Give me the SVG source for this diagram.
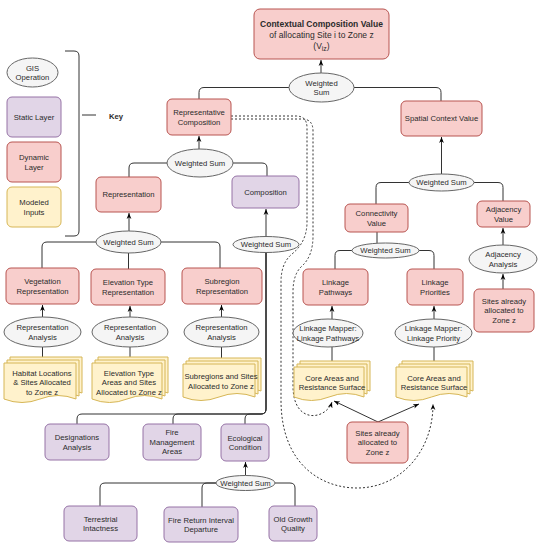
<svg xmlns="http://www.w3.org/2000/svg" width="541" height="550" viewBox="0 0 541 550">
<style>
text{font-family:"Liberation Sans",Arial,sans-serif;font-size:7.7px;fill:#2b2b2b;text-anchor:middle;dominant-baseline:central}
.pk{fill:#f8cecc;stroke:#b85450;stroke-width:1}
.pu{fill:#e1d5e7;stroke:#9673a6;stroke-width:1}
.ye{fill:#fff2cc;stroke:#d6b656;stroke-width:1}
.gr{fill:#f5f5f5;stroke:#666;stroke-width:1}
.ln{fill:none;stroke:#333;stroke-width:1}
.ar{fill:none;stroke:#333;stroke-width:1;marker-end:url(#a)}
.da{fill:none;stroke:#333;stroke-width:1;stroke-dasharray:2,2;marker-end:url(#a)}
.b{font-weight:bold}
</style>
<defs>
<marker id="a" viewBox="0 0 10 10" refX="10" refY="5" markerWidth="6" markerHeight="6" orient="auto"><path d="M0,1 L10,5 L0,9 L3,5 z" fill="#000"/></marker>
</defs>
<rect width="541" height="550" fill="#fff"/>

<!-- Key -->
<g id="key">
<path class="ln" d="M65,51 H74 Q79,51 79,56 V231 Q79,236 74,236 H65"/>
<path class="ln" d="M82,115 H96"/>
<text x="116" y="116" class="b">Key</text>
<ellipse class="gr" cx="32.5" cy="72.5" rx="25.5" ry="14.5"/>
<text x="32.5" y="68">GIS</text><text x="32.5" y="77.5">Operation</text>
<rect class="pu" x="7" y="97" width="54" height="40" rx="5"/>
<text x="34" y="117">Static Layer</text>
<rect class="pk" x="7" y="142" width="54" height="40" rx="5"/>
<text x="34" y="157.5">Dynamic</text><text x="34" y="167">Layer</text>
<rect class="ye" x="7" y="187" width="54" height="40" rx="5"/>
<text x="34" y="202.5">Modeled</text><text x="34" y="212">Inputs</text>
</g>

<!-- Connectors -->
<g id="connectors">
<path class="ar" d="M321,73 V60"/>
<path class="ln" d="M289,87.5 H204 Q199,87.5 199,92.5 V99"/>
<path class="ln" d="M354,87.5 H436 Q441,87.5 441,92.5 V101"/>
<path class="ar" d="M199,149 V136"/>
<path class="ln" d="M167,163 H134 Q129,163 129,168 V177"/>
<path class="ln" d="M233,163 H262 Q267,163 267,168 V176"/>
<path class="ar" d="M266,236.5 V209"/>
<path class="ln" d="M266,252.5 V409 Q266,414 261,414 H82 Q77,414 77,419 V424"/>
<path class="ln" d="M266,252.5 V409 Q266,414 261,414 H178 Q173,414 173,419 V424"/>
<path class="ln" d="M266,252.5 V409 Q266,414 261,414 H250 Q245,414 245,419 V424"/>
<path class="ar" d="M129,231 V213"/>
<path class="ln" d="M96,242 H47 Q42,242 42,247 V268"/>
<path class="ln" d="M128.5,253 V269"/>
<path class="ln" d="M161,242 H215 Q220,242 220,247 V268"/>
<path class="ar" d="M42.5,317 V305"/>
<path class="ar" d="M130,317 V306"/>
<path class="ar" d="M221.5,317 V305"/>
<path class="ln" d="M42.5,347 V360"/>
<path class="ln" d="M130,347 V360"/>
<path class="ln" d="M221.5,347 V361"/>
<path class="ar" d="M245.5,475.5 V462"/>
<path class="ln" d="M216,483 H105 Q100,483 100,488 V506"/>
<path class="ln" d="M216,483 H207 Q202,483 202,488 V507"/>
<path class="ln" d="M275,483 H290 Q295,483 295,488 V506"/>
<path class="ar" d="M441.5,174 V137"/>
<path class="ln" d="M409,182.5 H381 Q376,182.5 376,187.5 V204"/>
<path class="ln" d="M474,182.5 H498 Q503,182.5 503,187.5 V201"/>
<path class="ln" d="M377,232 V243"/>
<path class="ln" d="M352,250.5 H340 Q335,250.5 335,255.5 V269"/>
<path class="ln" d="M419,250.5 H429 Q434,250.5 434,255.5 V269"/>
<path class="ar" d="M503,245 V228"/>
<path class="ar" d="M503,289 V274"/>
<path class="ar" d="M332,319 V306"/>
<path class="ar" d="M434,319 V306"/>
<path class="ln" d="M332,347 V364"/>
<path class="ln" d="M434,347 V364"/>
<path class="ar" d="M378,422 L334,401"/>
<path class="ar" d="M378,422 L419,404"/>
<path class="da" d="M231,116 H296 Q307,116 307,128 V222 Q307,242 292,254 Q281,263 281,282 V400 C281,465 322,488 357,488 C400,488 433,452 433,404"/>
<path class="da" d="M231,119 H302 Q313,119 313,131 V236 Q313,256 302,266 Q293,274 293,292 V386 C293,425 326,420 332,402"/>
</g>

<!-- Top -->
<g id="contextual-composition-value">
<rect class="pk" x="254" y="9" width="135" height="50" rx="6"/>
<text x="321.5" y="24" class="b" style="font-size:8.5px">Contextual Composition Value</text>
<text x="321.5" y="34.5" style="font-size:8.5px">of allocating Site i to Zone z</text>
<text x="321.5" y="45.5" style="font-size:8.5px">(V<tspan font-size="6.8" dy="2">iz</tspan><tspan dy="-2">)</tspan></text>
</g>
<g id="ws-top"><ellipse class="gr" cx="321.5" cy="87.5" rx="32.5" ry="14.5"/><text x="321.5" y="83">Weighted</text><text x="321.5" y="92.5">Sum</text></g>

<g id="representative-composition"><rect class="pk" x="167" y="99" width="64" height="36" rx="5"/><text x="199" y="112.5">Representative</text><text x="199" y="122">Composition</text></g>
<g id="ws-rc"><ellipse class="gr" cx="200" cy="163" rx="33" ry="14"/><text x="200" y="163">Weighted Sum</text></g>
<g id="representation"><rect class="pk" x="96" y="177" width="65" height="35" rx="5"/><text x="128.5" y="194.5">Representation</text></g>
<g id="composition"><rect class="pu" x="232" y="176" width="67" height="32" rx="5"/><text x="265.5" y="192">Composition</text></g>
<g id="ws-comp"><ellipse class="gr" cx="266" cy="244.5" rx="33" ry="8"/><text x="266" y="244.5">Weighted Sum</text></g>
<g id="ws-rep"><ellipse class="gr" cx="128.5" cy="242" rx="32.5" ry="11"/><text x="128.5" y="242">Weighted Sum</text></g>

<g id="vegetation-representation"><rect class="pk" x="6" y="268" width="73" height="36" rx="5"/><text x="42.5" y="281.5">Vegetation</text><text x="42.5" y="291">Representation</text></g>
<g id="elevation-type-representation"><rect class="pk" x="91" y="269" width="74" height="36" rx="5"/><text x="128" y="282.5">Elevation Type</text><text x="128" y="292">Representation</text></g>
<g id="subregion-representation"><rect class="pk" x="182" y="268" width="80" height="36" rx="5"/><text x="222" y="281.5">Subregion</text><text x="222" y="291">Representation</text></g>

<g id="ra-1"><ellipse class="gr" cx="42.5" cy="332" rx="38.5" ry="15"/><text x="42.5" y="327.5">Representation</text><text x="42.5" y="337">Analysis</text></g>
<g id="ra-2"><ellipse class="gr" cx="130" cy="332" rx="38" ry="15"/><text x="130" y="327.5">Representation</text><text x="130" y="337">Analysis</text></g>
<g id="ra-3"><ellipse class="gr" cx="221.5" cy="332" rx="37.5" ry="15"/><text x="221.5" y="327.5">Representation</text><text x="221.5" y="337">Analysis</text></g>

<g id="doc-habitat">
<path class="ye" d="M10,357 H82 V393 Q64,386 46,393 Q28,400 10,393 Z"/>
<path class="ye" d="M7,360 H79 V396 Q61,389 43,396 Q25,403 7,396 Z"/>
<path class="ye" d="M4,363 H76 V399 Q58,392 40,399 Q22,406 4,399 Z"/>
<text x="42" y="373">Habitat Locations</text><text x="42" y="382.5">&amp; Sites Allocated</text><text x="42" y="392">to Zone z</text>
</g>
<g id="doc-elevation">
<path class="ye" d="M98,357 H168 V393 Q150.5,386 133,393 Q115.5,400 98,393 Z"/>
<path class="ye" d="M95,360 H165 V396 Q147.5,389 130,396 Q112.5,403 95,396 Z"/>
<path class="ye" d="M92,363 H162 V399 Q144.5,392 127,399 Q109.5,406 92,399 Z"/>
<text x="129" y="373">Elevation Type</text><text x="129" y="382.5">Areas and Sites</text><text x="129" y="392">Allocated to Zone z</text>
</g>
<g id="doc-subregions">
<path class="ye" d="M189,358 H261 V391 Q243,384 225,391 Q207,398 189,391 Z"/>
<path class="ye" d="M186,361 H258 V394 Q240,387 222,394 Q204,401 186,394 Z"/>
<path class="ye" d="M183,364 H255 V397 Q237,390 219,397 Q201,404 183,397 Z"/>
<text x="221" y="376.5">Subregions and Sites</text><text x="221" y="386">Allocated to Zone z</text>
</g>

<g id="designations-analysis"><rect class="pu" x="45" y="424" width="64" height="36" rx="5"/><text x="77" y="437.5">Designations</text><text x="77" y="447">Analysis</text></g>
<g id="fire-management-areas"><rect class="pu" x="143" y="424" width="58" height="36" rx="5"/><text x="172" y="432.5">Fire</text><text x="172" y="442">Management</text><text x="172" y="451.5">Areas</text></g>
<g id="ecological-condition"><rect class="pu" x="221" y="424" width="48" height="37" rx="5"/><text x="245" y="438">Ecological</text><text x="245" y="447.5">Condition</text></g>
<g id="ws-eco"><ellipse class="gr" cx="245.5" cy="483" rx="29.5" ry="7.5"/><text x="245.5" y="483">Weighted Sum</text></g>
<g id="terrestrial-intactness"><rect class="pu" x="64" y="506" width="73" height="35" rx="5"/><text x="100.5" y="519">Terrestrial</text><text x="100.5" y="528.5">Intactness</text></g>
<g id="fire-return-interval-departure"><rect class="pu" x="164" y="507" width="74" height="35" rx="5"/><text x="201" y="520">Fire Return Interval</text><text x="201" y="529.5">Departure</text></g>
<g id="old-growth-quality"><rect class="pu" x="269" y="506" width="48" height="35" rx="5"/><text x="293" y="519">Old Growth</text><text x="293" y="528.5">Quality</text></g>

<!-- Right side -->
<g id="spatial-context-value"><rect class="pk" x="401" y="101" width="81" height="35" rx="5"/><text x="441.5" y="118.5">Spatial Context Value</text></g>
<g id="ws-sc"><ellipse class="gr" cx="441.5" cy="182.5" rx="32.5" ry="8.5"/><text x="441.5" y="182.5">Weighted Sum</text></g>
<g id="connectivity-value"><rect class="pk" x="345" y="204" width="63" height="28" rx="5"/><text x="376.5" y="213.5">Connectivity</text><text x="376.5" y="223">Value</text></g>
<g id="adjacency-value"><rect class="pk" x="477" y="201" width="53" height="26" rx="5"/><text x="503.5" y="209.5">Adjacency</text><text x="503.5" y="219">Value</text></g>
<g id="adjacency-analysis"><ellipse class="gr" cx="503" cy="259" rx="34" ry="14"/><text x="503" y="254.5">Adjacency</text><text x="503" y="264">Analysis</text></g>
<g id="ws-conn"><ellipse class="gr" cx="385.5" cy="250.5" rx="33.5" ry="7.5"/><text x="385.5" y="250.5">Weighted Sum</text></g>
<g id="linkage-pathways"><rect class="pk" x="303" y="269" width="65" height="36" rx="5"/><text x="335.5" y="282.5">Linkage</text><text x="335.5" y="292">Pathways</text></g>
<g id="linkage-priorities"><rect class="pk" x="407" y="269" width="56" height="36" rx="5"/><text x="435" y="282.5">Linkage</text><text x="435" y="292">Priorities</text></g>
<g id="sites-adjacency"><rect class="pk" x="474" y="289" width="60" height="43" rx="5"/><text x="504" y="301">Sites already</text><text x="504" y="310.5">allocated to</text><text x="504" y="320">Zone z</text></g>
<g id="lm-pathways"><ellipse class="gr" cx="328" cy="333" rx="35" ry="14"/><text x="328" y="328.5">Linkage Mapper:</text><text x="328" y="338">Linkage Pathways</text></g>
<g id="lm-priority"><ellipse class="gr" cx="433.5" cy="333" rx="38.5" ry="14"/><text x="433.5" y="328.5">Linkage Mapper:</text><text x="433.5" y="338">Linkage Priority</text></g>
<g id="doc-core-1">
<path class="ye" d="M300,361 H370 V391 Q352.5,384 335,391 Q317.5,398 300,391 Z"/>
<path class="ye" d="M297,364 H367 V394 Q349.5,387 332,394 Q314.5,401 297,394 Z"/>
<path class="ye" d="M294,367 H364 V397 Q346.5,390 329,397 Q311.5,404 294,397 Z"/>
<text x="332" y="378">Core Areas and</text><text x="332" y="387.5">Resistance Surface</text>
</g>
<g id="doc-core-2">
<path class="ye" d="M402,361 H473 V391 Q455,384 437.5,391 Q420,398 402,391 Z"/>
<path class="ye" d="M399,364 H470 V394 Q452,387 434.5,394 Q417,401 399,394 Z"/>
<path class="ye" d="M396,367 H467 V397 Q449,390 431.5,397 Q414,404 396,397 Z"/>
<text x="434" y="378">Core Areas and</text><text x="434" y="387.5">Resistance Surface</text>
</g>
<g id="sites-center"><rect class="pk" x="347" y="422" width="61" height="41" rx="5"/><text x="377.5" y="433">Sites already</text><text x="377.5" y="442.5">allocated to</text><text x="377.5" y="452">Zone z</text></g>
</svg>
